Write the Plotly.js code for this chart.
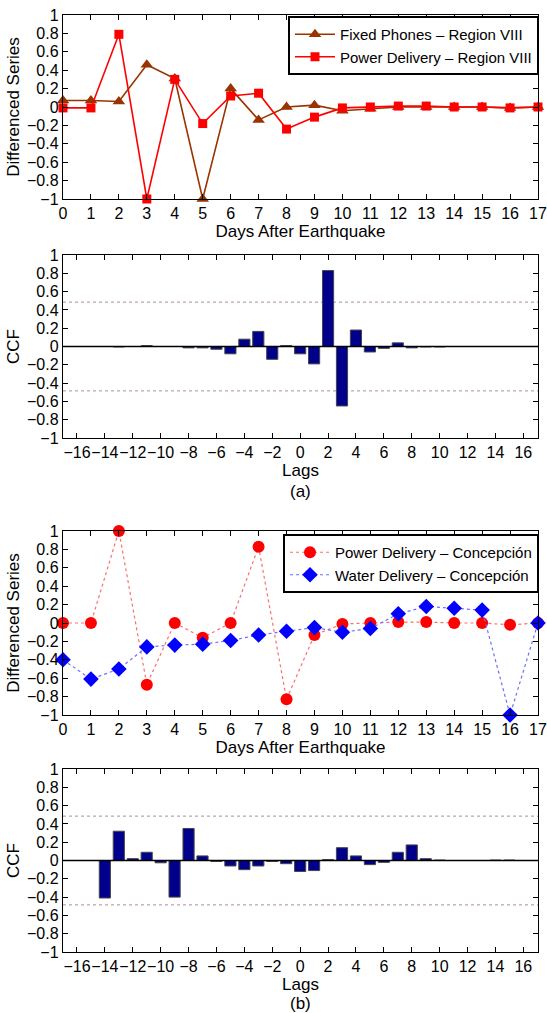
<!DOCTYPE html>
<html>
<head>
<meta charset="utf-8">
<script src="https://cdn.plot.ly/plotly-3.0.1.min.js"></script>
<style>html,body{margin:0;padding:0;background:#fff;}#chart{width:547px;height:1013px;}</style>
</head>
<body>
<div id="chart"></div>
<script>
// ---- data ----
const days = [0,1,2,3,4,5,6,7,8,9,10,11,12,13,14,15,16,17];
const fixedPhonesR8 = [0.07,0.07,0.06,0.46,0.31,-1.0,0.20,-0.14,0.0,0.02,-0.04,-0.02,0.0,0.0,0.0,0.0,-0.01,0.0];
const powerR8 = [-0.01,-0.01,0.79,-1.0,0.30,-0.18,0.12,0.15,-0.24,-0.11,-0.01,0.0,0.01,0.01,0.0,0.0,-0.01,0.0];

const lags = [-16,-15,-14,-13,-12,-11,-10,-9,-8,-7,-6,-5,-4,-3,-2,-1,0,1,2,3,4,5,6,7,8,9,10,11,12,13,14,15,16];
const ccfA = [0,0,0,-0.005,0,0.01,0,0,-0.015,-0.015,-0.03,-0.08,0.08,0.165,-0.14,0.01,-0.08,-0.19,0.83,-0.65,0.18,-0.06,-0.02,0.04,-0.015,-0.005,-0.005,0,0,0,0,0,0];

const powerConc = [0,0,1.0,-0.67,0,-0.16,0,0.83,-0.83,-0.13,-0.01,0,0.01,0.01,0,0,-0.02,0];
const waterConc = [-0.40,-0.61,-0.50,-0.26,-0.24,-0.23,-0.19,-0.13,-0.09,-0.05,-0.10,-0.06,0.10,0.18,0.16,0.14,-1.0,0];

const ccfB = [0,0,-0.41,0.32,0.02,0.09,-0.025,-0.40,0.35,0.05,-0.01,-0.06,-0.10,-0.06,-0.01,-0.035,-0.12,-0.11,0.01,0.14,0.05,-0.045,-0.02,0.09,0.17,0.02,0.005,0,0,0,0.005,0.005,0];

const confBound = 0.485;
const dayTicks = days;
const lagTicks = [-16,-14,-12,-10,-8,-6,-4,-2,0,2,4,6,8,10,12,14,16];

// ---- styling ----
const W = 547, H = 1013;
const fontFam = '"Liberation Sans", Arial, Helvetica, sans-serif';
const tickSize = 16, titleSize = 17;
const xdom = [63/W, 538/W];
function ydom(top, bottom){ return [1 - bottom/H, 1 - top/H]; }

function yAxis(dom, title){
  return {
    domain: dom, range: [-1, 1], dtick: 0.2, tick0: -1, tickangle: 0,
    ticks: 'inside', ticklen: 5, tickcolor: '#000', mirror: 'ticks',
    showline: true, linecolor: '#000', linewidth: 1.2,
    showgrid: false, zeroline: false,
    tickfont: {family: fontFam, size: tickSize, color: '#000'},
    title: {text: title, font: {family: fontFam, size: titleSize, color: '#000'}, standoff: 3},
    fixedrange: true
  };
}
function xAxisDays(dom, anchor){
  return {
    domain: dom, anchor: anchor, range: [0, 17], tickvals: dayTicks, tickangle: 0,
    ticks: 'inside', ticklen: 5, tickcolor: '#000', mirror: 'ticks',
    showline: true, linecolor: '#000', linewidth: 1.2,
    showgrid: false, zeroline: false,
    tickfont: {family: fontFam, size: tickSize, color: '#000'},
    title: {text: 'Days After Earthquake', font: {family: fontFam, size: titleSize, color: '#000'}, standoff: 0},
    fixedrange: true
  };
}
function xAxisLags(dom, anchor){
  return {
    domain: dom, anchor: anchor, range: [-17, 17.05], tickvals: lagTicks, tickangle: 0,
    ticks: 'inside', ticklen: 5, tickcolor: '#000', mirror: 'ticks',
    showline: true, linecolor: '#000', linewidth: 1.2,
    showgrid: false, zeroline: false,
    tickfont: {family: fontFam, size: tickSize, color: '#000'},
    title: {text: 'Lags', font: {family: fontFam, size: titleSize, color: '#000'}, standoff: 0},
    fixedrange: true
  };
}

const brown = 'rgb(153,51,0)';
const red = 'rgb(255,0,0)';
const navy = 'rgb(0,0,140)';

const traces = [
  {x: days, y: fixedPhonesR8, type: 'scatter', mode: 'lines+markers', name: 'Fixed Phones \u2013 Region VIII',
   xaxis: 'x', yaxis: 'y', legend: 'legend', cliponaxis: false,
   line: {color: brown, width: 1.6}, marker: {symbol: 'triangle-up', size: 11, color: brown}},
  {x: days, y: powerR8, type: 'scatter', mode: 'lines+markers', name: 'Power Delivery \u2013 Region VIII',
   xaxis: 'x', yaxis: 'y', legend: 'legend', cliponaxis: false,
   line: {color: red, width: 1.6}, marker: {symbol: 'square', size: 9, color: red}},
  {x: lags, y: ccfA, type: 'bar', xaxis: 'x2', yaxis: 'y2', showlegend: false, width: 0.8,
   marker: {color: navy, line: {color: 'rgb(70,70,70)', width: 1}}},
  {x: days, y: powerConc, type: 'scatter', mode: 'lines+markers', name: 'Power Delivery \u2013 Concepci\u00f3n',
   xaxis: 'x3', yaxis: 'y3', legend: 'legend2', cliponaxis: false,
   line: {color: 'rgb(255,110,110)', width: 1.2, dash: 'dot'}, marker: {symbol: 'circle', size: 12, color: red}},
  {x: days, y: waterConc, type: 'scatter', mode: 'lines+markers', name: 'Water Delivery \u2013 Concepci\u00f3n',
   xaxis: 'x3', yaxis: 'y3', legend: 'legend2', cliponaxis: false,
   line: {color: 'rgb(110,110,255)', width: 1.2, dash: 'dot'}, marker: {symbol: 'diamond', size: 12, color: 'rgb(0,0,255)'}},
  {x: lags, y: ccfB, type: 'bar', xaxis: 'x4', yaxis: 'y4', showlegend: false, width: 0.8,
   marker: {color: navy, line: {color: 'rgb(70,70,70)', width: 1}}}
];

function bound(xref, yref, v){
  return {type: 'line', xref: xref + ' domain', yref: yref, x0: 0, x1: 1, y0: v, y1: v,
          line: {color: 'rgb(170,140,170)', width: 1, dash: 'dot'}, layer: 'below'};
}
function base(xref, yref){
  return {type: 'line', xref: xref + ' domain', yref: yref, x0: 0, x1: 1, y0: 0, y1: 0,
          line: {color: '#000', width: 1.6}, layer: 'above'};
}

const legendStyle = {
  xref: 'paper', yref: 'paper', xanchor: 'right', yanchor: 'top',
  bgcolor: '#fff', bordercolor: '#000', borderwidth: 2,
  font: {family: fontFam, size: 15, color: '#000'},
  tracegroupgap: 0, itemwidth: 40
};

const layout = {
  width: W, height: H,
  margin: {l: 0, r: 0, t: 0, b: 0},
  paper_bgcolor: '#fff', plot_bgcolor: '#fff',
  font: {family: fontFam, size: 16, color: '#000'},
  showlegend: true,
  bargap: 0.2,
  xaxis: xAxisDays(xdom, 'y'),
  yaxis: yAxis(ydom(15, 199), 'Differenced Series'),
  xaxis2: xAxisLags(xdom, 'y2'),
  yaxis2: yAxis(ydom(255, 438), 'CCF'),
  xaxis3: xAxisDays(xdom, 'y3'),
  yaxis3: yAxis(ydom(531, 715), 'Differenced Series'),
  xaxis4: xAxisLags(xdom, 'y4'),
  yaxis4: yAxis(ydom(769, 952), 'CCF'),
  legend: Object.assign({}, legendStyle, {x: 539/W, y: 1 - 16/H}),
  legend2: Object.assign({}, legendStyle, {x: 539/W, y: 1 - 534/H}),
  shapes: [
    bound('x2', 'y2', confBound), bound('x2', 'y2', -confBound), base('x2', 'y2'),
    bound('x4', 'y4', confBound), bound('x4', 'y4', -confBound), base('x4', 'y4')
  ],
  annotations: [
    {text: '(a)', xref: 'paper', yref: 'paper', x: 300.5/W, y: 1 - 491/H, showarrow: false,
     xanchor: 'center', yanchor: 'middle', font: {family: fontFam, size: 17, color: '#000'}},
    {text: '(b)', xref: 'paper', yref: 'paper', x: 300.5/W, y: 1 - 1003/H, showarrow: false,
     xanchor: 'center', yanchor: 'middle', font: {family: fontFam, size: 17, color: '#000'}}
  ]
};

Plotly.newPlot('chart', traces, layout, {displayModeBar: false, staticPlot: true});
</script>
</body>
</html>
